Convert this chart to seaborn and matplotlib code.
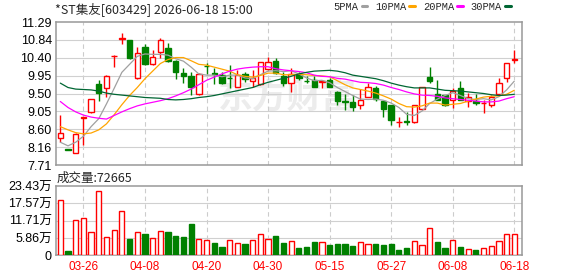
import numpy as np
import pandas as pd
import matplotlib
matplotlib.use("Agg")
import matplotlib.pyplot as plt
import seaborn as sns
from matplotlib.lines import Line2D

# trading days shown on the chart
dates = ["03-23", "03-24", "03-25", "03-26", "03-27", "03-30", "03-31", "04-01", "04-02", "04-03",
         "04-07", "04-08", "04-09", "04-10", "04-13", "04-14", "04-15", "04-16", "04-17", "04-20",
         "04-21", "04-22", "04-23", "04-24", "04-27", "04-28", "04-29", "04-30", "05-06", "05-07",
         "05-08", "05-11", "05-12", "05-13", "05-14", "05-15", "05-18", "05-19", "05-20", "05-21",
         "05-22", "05-25", "05-26", "05-27", "05-28", "05-29", "06-01", "06-02", "06-03", "06-04",
         "06-05", "06-08", "06-09", "06-10", "06-11", "06-12", "06-15", "06-16", "06-17", "06-18"]

opens = [8.39, 8.10, 8.02, 8.88, 9.03, 9.75, 9.65, 10.44, 10.87, 10.84,
         9.88, 10.67, 10.23, 10.53, 10.63, 10.32, 10.02, 9.95, 9.48, 10.20,
         10.01, 9.96, 9.89, 9.67, 9.98, 9.82, 9.73, 10.11, 10.31, 9.95,
         9.76, 9.98, 9.82, 9.84, 9.80, 9.83, 9.55, 9.30, 9.28, 9.20,
         9.41, 9.63, 9.30, 9.21, 8.78, 8.80, 8.78, 9.11, 9.92, 9.48,
         9.46, 9.34, 9.63, 9.31, 9.31, 9.26, 9.21, 9.48, 9.88, 10.35]
highs = [8.96, 8.10, 8.50, 8.92, 9.37, 9.84, 9.97, 10.46, 11.02, 10.85,
         10.67, 10.74, 10.59, 10.88, 10.76, 10.33, 10.13, 10.03, 10.02, 10.27,
         10.13, 10.03, 10.21, 10.09, 10.05, 10.09, 10.29, 10.42, 10.38, 10.03,
         10.13, 10.03, 9.94, 9.94, 9.84, 9.88, 9.56, 9.48, 9.46, 9.61,
         9.76, 9.69, 9.31, 9.22, 8.92, 9.03, 9.22, 9.67, 10.17, 9.85,
         9.47, 9.63, 9.81, 9.51, 9.49, 9.34, 9.46, 9.88, 10.27, 10.59]
lows = [8.29, 8.08, 8.01, 8.21, 9.02, 9.30, 9.42, 10.17, 10.73, 10.37,
        9.87, 10.22, 10.22, 10.40, 10.30, 9.86, 9.76, 9.45, 9.47, 9.98,
        9.73, 9.74, 9.63, 9.66, 9.80, 9.67, 9.72, 10.09, 10.00, 9.70,
        9.53, 9.84, 9.76, 9.67, 9.65, 9.66, 9.20, 9.09, 9.07, 9.11,
        9.40, 9.31, 8.92, 8.71, 8.65, 8.71, 8.77, 9.10, 9.76, 9.33,
        9.19, 9.13, 9.33, 9.15, 9.20, 9.02, 9.15, 9.47, 9.78, 10.27]
closes = [8.50, 8.09, 8.49, 8.90, 9.36, 9.51, 9.95, 10.45, 10.88, 10.38,
          10.51, 10.23, 10.42, 10.84, 10.31, 10.03, 9.95, 9.67, 9.98, 10.18,
          10.00, 9.76, 9.88, 9.96, 9.86, 9.88, 10.28, 10.30, 10.01, 9.76,
          10.00, 9.88, 9.81, 9.67, 9.81, 9.67, 9.31, 9.29, 9.17, 9.34,
          9.66, 9.36, 9.11, 8.84, 8.79, 8.78, 9.21, 9.66, 9.82, 9.34,
          9.20, 9.56, 9.34, 9.41, 9.26, 9.27, 9.40, 9.76, 10.26, 10.36]
prev_close = 8.17

# volume, in units of 万
volumes = [18.6, 1.45, 11.9, 12.5, 7.8, 21.6, 6.1, 8.55, 15.0, 5.5,
           7.8, 7.2, 5.75, 8.2, 7.9, 6.5, 6.1, 10.6, 5.4, 5.2,
           4.05, 2.8, 5.05, 4.05, 3.8, 5.05, 7.1, 5.5, 6.5, 4.15,
           4.7, 2.6, 2.9, 4.5, 4.4, 3.5, 3.8, 3.8, 3.15, 4.4,
           3.7, 3.8, 3.5, 3.8, 1.8, 2.45, 4.7, 3.4, 9.1, 4.4,
           2.45, 5.05, 2.8, 2.1, 1.8, 2.45, 3.0, 4.7, 7.1, 7.2665]

ma5 = [8.28, 8.19, 8.28, 8.43, 8.67, 8.87, 9.24, 9.63, 10.03, 10.23,
       10.43, 10.49, 10.48, 10.48, 10.46, 10.37, 10.31, 10.16, 9.99, 9.96,
       9.96, 9.92, 9.96, 9.96, 9.89, 9.87, 9.97, 10.06, 10.07, 10.05,
       10.07, 9.99, 9.89, 9.82, 9.83, 9.77, 9.65, 9.55, 9.45, 9.36,
       9.35, 9.36, 9.33, 9.26, 9.15, 8.98, 8.95, 9.06, 9.25, 9.36,
       9.45, 9.52, 9.45, 9.37, 9.35, 9.37, 9.34, 9.42, 9.59, 9.81]
ma10 = [8.67, 8.59, 8.52, 8.49, 8.51, 8.59, 8.74, 8.97, 9.22, 9.45,
        9.65, 9.87, 10.06, 10.25, 10.35, 10.40, 10.40, 10.32, 10.23, 10.21,
        10.16, 10.11, 10.06, 9.97, 9.93, 9.91, 9.95, 10.01, 10.01, 9.97,
        9.97, 9.98, 9.97, 9.95, 9.94, 9.92, 9.82, 9.72, 9.64, 9.60,
        9.56, 9.51, 9.44, 9.36, 9.25, 9.17, 9.16, 9.19, 9.26, 9.26,
        9.21, 9.23, 9.25, 9.31, 9.36, 9.41, 9.43, 9.44, 9.48, 9.58]
ma20 = [9.30, 9.15, 9.04, 8.96, 8.91, 8.88, 8.86, 8.95, 9.04, 9.12,
        9.19, 9.24, 9.28, 9.32, 9.37, 9.44, 9.52, 9.61, 9.72, 9.83,
        9.91, 9.99, 10.06, 10.11, 10.14, 10.16, 10.17, 10.17, 10.12, 10.09,
        10.07, 10.05, 10.02, 9.96, 9.93, 9.92, 9.88, 9.86, 9.82, 9.78,
        9.77, 9.75, 9.71, 9.65, 9.60, 9.54, 9.49, 9.46, 9.45, 9.43,
        9.39, 9.37, 9.35, 9.33, 9.31, 9.29, 9.29, 9.31, 9.37, 9.42]
ma30 = [9.76, 9.65, 9.61, 9.60, 9.59, 9.56, 9.51, 9.48, 9.46, 9.44,
        9.42, 9.40, 9.39, 9.38, 9.35, 9.34, 9.35, 9.37, 9.40, 9.42,
        9.45, 9.49, 9.53, 9.57, 9.61, 9.65, 9.72, 9.78, 9.83, 9.88,
        9.93, 9.99, 10.03, 10.06, 10.07, 10.08, 10.06, 10.02, 9.96, 9.93,
        9.90, 9.87, 9.82, 9.76, 9.71, 9.67, 9.64, 9.64, 9.64, 9.61,
        9.58, 9.57, 9.56, 9.54, 9.52, 9.50, 9.47, 9.45, 9.46, 9.48]

price_ticks = [7.71, 8.16, 8.60, 9.05, 9.50, 9.95, 10.40, 10.84, 11.29]
vol_ticks = [0, 5.86, 11.71, 17.57, 23.43]
vol_tick_labels = ["0", "5.86万", "11.71万", "17.57万", "23.43万"]
date_labels = ["03-26", "04-08", "04-20", "04-30", "05-15", "05-27", "06-08", "06-18"]
title = "*ST集友[603429] 2026-06-18 15:00"
last_volume = 72665

RED = "#ff0000"
GREEN = "#008000"
MA_STYLES = [("5PMA", ma5, "#a0a0a0"), ("10PMA", ma10, "#ffa500"),
             ("20PMA", ma20, "#ff00ff"), ("30PMA", ma30, "#006633")]

sns.set_style("white")
plt.rcParams["font.family"] = ["Liberation Sans", "Noto Sans CJK SC", "DejaVu Sans"]

df = pd.DataFrame({"date": dates, "open": opens, "high": highs, "low": lows,
                   "close": closes, "volume": volumes})
df["i"] = np.arange(len(df))
up = (df["close"] >= df["open"]).to_numpy()
vol_up = (df["close"] >= df["close"].shift(1).fillna(prev_close)).to_numpy()

W, H = 578, 276
fig = plt.figure(figsize=(W / 100, H / 100), dpi=100)
ax = fig.add_axes([56 / W, 1 - 165 / H, 466 / W, 143 / H])
axv = fig.add_axes([56 / W, 1 - 255.3 / H, 466 / W, 69.3 / H])

tick_pos = [dates.index(d) for d in date_labels]
for a in (ax, axv):
    a.set_xlim(-0.56, 60.0)
    a.set_xticks(tick_pos)
    a.grid(False)
    for x in tick_pos:
        a.axvline(x, color="#cccccc", lw=0.8, ls=(0, (4, 3)), zorder=1)
    for s in a.spines.values():
        s.set_color("#999999")
        s.set_linewidth(1.1)
    a.tick_params(length=0, labelsize=9, colors="black", pad=3)

# price panel
ax.set_ylim(7.71, 11.29)
ax.set_yticks(price_ticks)
ax.set_yticklabels([f"{v:.2f}" for v in price_ticks])
for v in price_ticks[1:-1]:
    ax.axhline(v, color="#d0d0d0", lw=0.8, zorder=1)
ax.set_xticklabels([])
ax.text(29.5, 9.40, "东方财富", fontsize=25, color="#ececec", ha="center", va="center",
        family=["Noto Sans CJK SC"], fontweight="bold", zorder=0.5)

ax.vlines(df["i"], df["low"], df["high"], colors=np.where(up, RED, GREEN), lw=1.0, zorder=3)
body_low = np.minimum(df["open"], df["close"])
body_h = (df["close"] - df["open"]).abs()
ax.bar(df["i"], body_h, bottom=body_low, width=0.7,
       color=np.where(up, "white", GREEN), edgecolor=np.where(up, RED, GREEN),
       linewidth=1.0, zorder=4)

for name, vals, col in MA_STYLES:
    sns.lineplot(x=df["i"], y=vals, color=col, lw=0.9, ax=ax, zorder=5)
ax.set_xlabel("")
ax.set_ylabel("")

# volume panel
axv.set_ylim(0, 23.43)
axv.set_yticks(vol_ticks)
axv.set_yticklabels(vol_tick_labels)
for v in vol_ticks[1:-1]:
    axv.axhline(v, color="#d0d0d0", lw=0.8, zorder=1)
axv.bar(df["i"], df["volume"], width=0.68,
        color=np.where(vol_up, "white", GREEN), edgecolor=np.where(vol_up, RED, GREEN),
        linewidth=1.0, zorder=3)
axv.set_xticklabels(date_labels, color=RED, fontsize=8.5)
axv.tick_params(axis="x", pad=4)

# texts
fig.text(55 / W, 1 - 9 / H, title, va="center", ha="left", fontsize=9,
         family=["Noto Sans CJK SC"])
fig.text(57 / W, 1 - 178 / H, f"成交量:{last_volume}", va="center", ha="left",
         fontsize=9, family=["Noto Sans CJK SC", "Liberation Sans"])

handles = [Line2D([], [], color=c, lw=2.2) for _, _, c in MA_STYLES]
fig.legend(handles, [n for n, _, _ in MA_STYLES], ncol=4, loc="upper right",
           bbox_to_anchor=(511 / W, 1 - 2 / H), frameon=False, markerfirst=False,
           handlelength=0.55, handletextpad=0.3, columnspacing=0.75, borderaxespad=0,
           borderpad=0, prop={"family": "Liberation Mono", "size": 7.5})

fig.savefig("out.png", dpi=100)
